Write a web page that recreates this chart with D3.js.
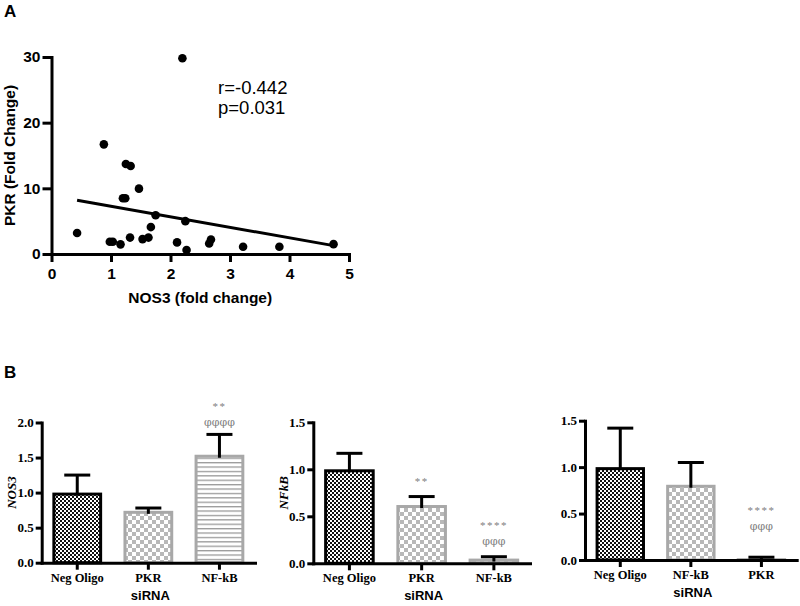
<!DOCTYPE html>
<html><head><meta charset="utf-8">
<script src="https://cdn.jsdelivr.net/npm/d3@7"></script>
<style>body{margin:0;background:#fff} svg{display:block}</style>
</head><body>
<svg id="c" width="800" height="606"></svg>
<script>
// ---------- Panel A data ----------
const nos3 = [0.43,0.88,0.98,1.03,1.16,1.20,1.24,1.25,1.32,1.33,1.47,1.53,1.63,1.67,1.75,2.11,2.20,2.25,2.27,2.65,2.68,3.22,3.83,4.74];
const pkr  = [3.2,16.7,1.86,1.86,1.47,8.5,8.5,13.7,2.5,13.4,9.95,2.27,2.5,4.1,5.9,1.77,29.8,5.0,0.6,1.6,2.2,1.1,1.1,1.5];
const corrText = ["r=-0.442", "p=0.031"];
const scatterXTicks = [0,1,2,3,4,5];
const scatterYTicks = [0,10,20,30];

// ---------- Panel B data ----------
const cats1 = ["Neg Oligo","PKR","NF-kB"];
const mean1 = [1.00,0.74,1.54];
const sem1  = [0.25,0.04,0.29];
const ann1  = [[],[],["**","φφφφ"]];
const yTicks1 = [0,0.5,1.0,1.5,2.0];

const cats2 = ["Neg Oligo","PKR","NF-kB"];
const mean2 = [1.00,0.62,0.05];
const sem2  = [0.17,0.09,0.02];
const ann2  = [[],["**"],["****","φφφ"]];
const yTicks2 = [0,0.5,1.0,1.5];

const cats3 = ["Neg Oligo","NF-kB","PKR"];
const mean3 = [1.00,0.81,0.02];
const sem3  = [0.42,0.24,0.01];
const ann3  = [[],[],["****","φφφ"]];
const yTicks3 = [0,0.5,1.0,1.5];

const SANS = "'Liberation Sans', Arial, Helvetica, sans-serif";
const SERIF = "'Liberation Serif', 'Times New Roman', Times, serif";
const GREEK = "'DejaVu Serif', 'Liberation Serif', serif";

const svg = d3.select("#c");

// ---------- patterns ----------
const defs = svg.append("defs");
const pDense = defs.append("pattern").attr("id","dense").attr("patternUnits","userSpaceOnUse").attr("width",4).attr("height",4);
pDense.append("rect").attr("width",4).attr("height",4).attr("fill","#fff");
pDense.append("rect").attr("width",2).attr("height",2).attr("fill","#111");
pDense.append("rect").attr("x",2).attr("y",2).attr("width",2).attr("height",2).attr("fill","#111");

const pCheck = defs.append("pattern").attr("id","check").attr("patternUnits","userSpaceOnUse").attr("width",8).attr("height",8);
pCheck.append("rect").attr("width",8).attr("height",8).attr("fill","#fff");
pCheck.append("rect").attr("width",4).attr("height",4).attr("fill","#b8b8b8");
pCheck.append("rect").attr("x",4).attr("y",4).attr("width",4).attr("height",4).attr("fill","#b8b8b8");

const pStripe = defs.append("pattern").attr("id","stripe").attr("patternUnits","userSpaceOnUse").attr("width",8).attr("height",4.4);
pStripe.append("rect").attr("width",8).attr("height",4.4).attr("fill","#fff");
pStripe.append("rect").attr("y",0).attr("width",8).attr("height",1.3).attr("fill","#9a9a9a");

const fillFor = {"Neg Oligo":"url(#dense)", "PKR":"url(#check)", "NF-kB":"url(#check)"};

function styleAxis(g, family, size) {
  g.select(".domain").attr("stroke","#000").attr("stroke-width",3).attr("stroke-linecap","square");
  g.selectAll(".tick line").attr("stroke","#000").attr("stroke-width",3);
  g.selectAll(".tick text").attr("font-family",family).attr("font-weight","bold")
    .attr("font-size",size).attr("fill","#000");
}

// ---------- Panel labels ----------
svg.append("text").attr("x",4).attr("y",17).text("A")
  .attr("font-family",SANS).attr("font-weight","bold").attr("font-size",17);
svg.append("text").attr("x",4).attr("y",378).text("B")
  .attr("font-family",SANS).attr("font-weight","bold").attr("font-size",17);

// ---------- Panel A ----------
(function(){
  const x = d3.scaleLinear().domain([0,5]).range([51.5,349]);
  const y = d3.scaleLinear().domain([0,30]).range([254,57]);
  const gx = svg.append("g").attr("transform",`translate(0,${y(0)})`)
    .call(d3.axisBottom(x).tickValues(scatterXTicks).tickFormat(d3.format("d")).tickSize(8).tickPadding(6).tickSizeOuter(0));
  styleAxis(gx, SANS, 15.5);
  const gy = svg.append("g").attr("transform",`translate(${x(0)},0)`)
    .call(d3.axisLeft(y).tickValues(scatterYTicks).tickFormat(d3.format("d")).tickSize(9).tickPadding(2).tickSizeOuter(0));
  styleAxis(gy, SANS, 15.5);

  // regression line (least squares from points)
  const mx = d3.mean(nos3), my = d3.mean(pkr);
  let sxy = 0, sxx = 0;
  nos3.forEach((v,i)=>{ sxy += (v-mx)*(pkr[i]-my); sxx += (v-mx)*(v-mx); });
  const b = sxy/sxx, a = my - b*mx;
  const [x0,x1] = d3.extent(nos3);
  svg.append("line").attr("x1",x(x0)).attr("y1",y(a+b*x0)).attr("x2",x(x1)).attr("y2",y(a+b*x1))
    .attr("stroke","#000").attr("stroke-width",3);

  svg.append("g").selectAll("circle").data(nos3).join("circle")
    .attr("cx",d=>x(d)).attr("cy",(d,i)=>y(pkr[i])).attr("r",4.3).attr("fill","#000");

  svg.append("g").selectAll("text").data(corrText).join("text")
    .attr("x",218).attr("y",(d,i)=>94+i*19.5).text(d=>d)
    .attr("font-family",SANS).attr("font-size",18.5).attr("fill","#000");

  svg.append("text").attr("x",(x(0)+x(5))/2).attr("y",303).attr("text-anchor","middle")
    .text("NOS3 (fold change)").attr("font-family",SANS).attr("font-weight","bold").attr("font-size",15.5);
  svg.append("text").attr("transform",`translate(15,${(y(0)+y(30))/2}) rotate(-90)`).attr("text-anchor","middle")
    .text("PKR (Fold Change)").attr("font-family",SANS).attr("font-weight","bold").attr("font-size",15.5);
})();

// ---------- Panel B ----------
function barChart(cfg) {
  const {cats, mean, sem, ann, ticks, ymax, xr, yr, title, titleX, annGap, stripeLast} = cfg;
  const x = d3.scaleBand().domain(cats).range(xr).paddingInner(0.3).paddingOuter(0.15);
  const y = d3.scaleLinear().domain([0,ymax]).range(yr);
  const g = svg.append("g");

  // bars
  cats.forEach((c,i)=>{
    const isNeg = c === "Neg Oligo";
    let fill = fillFor[c];
    if (stripeLast && i === cats.length-1) fill = "url(#stripe)";
    g.append("rect")
      .attr("x",x(c)+1.5).attr("width",x.bandwidth()-3)
      .attr("y",y(mean[i])+1.5).attr("height",Math.max(0.5,y(0)-y(mean[i])-1.5))
      .attr("fill",fill).attr("stroke",isNeg?"#000":"#a8a8a8").attr("stroke-width",3);
  });

  // error bars (upper)
  cats.forEach((c,i)=>{
    const cx = x(c)+x.bandwidth()/2;
    const top = y(mean[i]+sem[i]);
    g.append("line").attr("x1",cx).attr("x2",cx).attr("y1",y(mean[i])+3).attr("y2",top)
      .attr("stroke","#000").attr("stroke-width",3);
    g.append("line").attr("x1",cx-13).attr("x2",cx+13).attr("y1",top).attr("y2",top)
      .attr("stroke","#000").attr("stroke-width",3);
    // annotations
    const lines = ann[i];
    lines.slice().reverse().forEach((t,k)=>{
      const isStar = t.indexOf("*")>=0;
      g.append("text").attr("x",cx).attr("y",top - annGap - k*16 + 4).attr("text-anchor","middle")
        .text(t).attr("font-family",isStar?SERIF:GREEK).attr("font-size",isStar?11:11)
        .attr("letter-spacing",isStar?1.5:0).attr("fill","#808080");
    });
  });

  // axes
  const gy = g.append("g").attr("transform",`translate(${xr[0]},0)`)
    .call(d3.axisLeft(y).tickValues(ticks).tickFormat(d3.format(".1f")).tickSize(6).tickPadding(2).tickSizeOuter(0));
  styleAxis(gy, SERIF, 13);
  const gx = g.append("g").attr("transform",`translate(0,${y(0)})`)
    .call(d3.axisBottom(x).tickSize(7).tickSizeOuter(0));
  styleAxis(gx, SERIF, 12.5);
  gx.selectAll(".tick text").attr("y",19).attr("dy",0);

  g.append("text").attr("x",(xr[0]+xr[1])/2 + 2).attr("y",y(0)+37).attr("text-anchor","middle")
    .text("siRNA").attr("font-family",SANS).attr("font-weight","bold").attr("font-size",13);
  if (title) {
    g.append("text").attr("transform",`translate(${titleX},${(yr[0]+yr[1])/2}) rotate(-90)`)
      .attr("text-anchor","middle").text(title)
      .attr("font-family",SERIF).attr("font-style","italic").attr("font-weight","bold").attr("font-size",13);
  }
}

barChart({cats:cats1, mean:mean1, sem:sem1, ann:ann1, ticks:yTicks1, ymax:2.0,
  xr:[41.7,255], yr:[562.7,422.5], title:"NOS3", titleX:16, annGap:12, stripeLast:true});
barChart({cats:cats2, mean:mean2, sem:sem2, ann:ann2, ticks:yTicks2, ymax:1.5,
  xr:[313.3,530], yr:[563.3,422.3], title:"NFkB", titleX:288, annGap:16, stripeLast:false});
barChart({cats:cats3, mean:mean3, sem:sem3, ann:ann3, ticks:yTicks3, ymax:1.5,
  xr:[585,796.7], yr:[560,420.7], title:null, titleX:0, annGap:31, stripeLast:false});
</script>
</body></html>
